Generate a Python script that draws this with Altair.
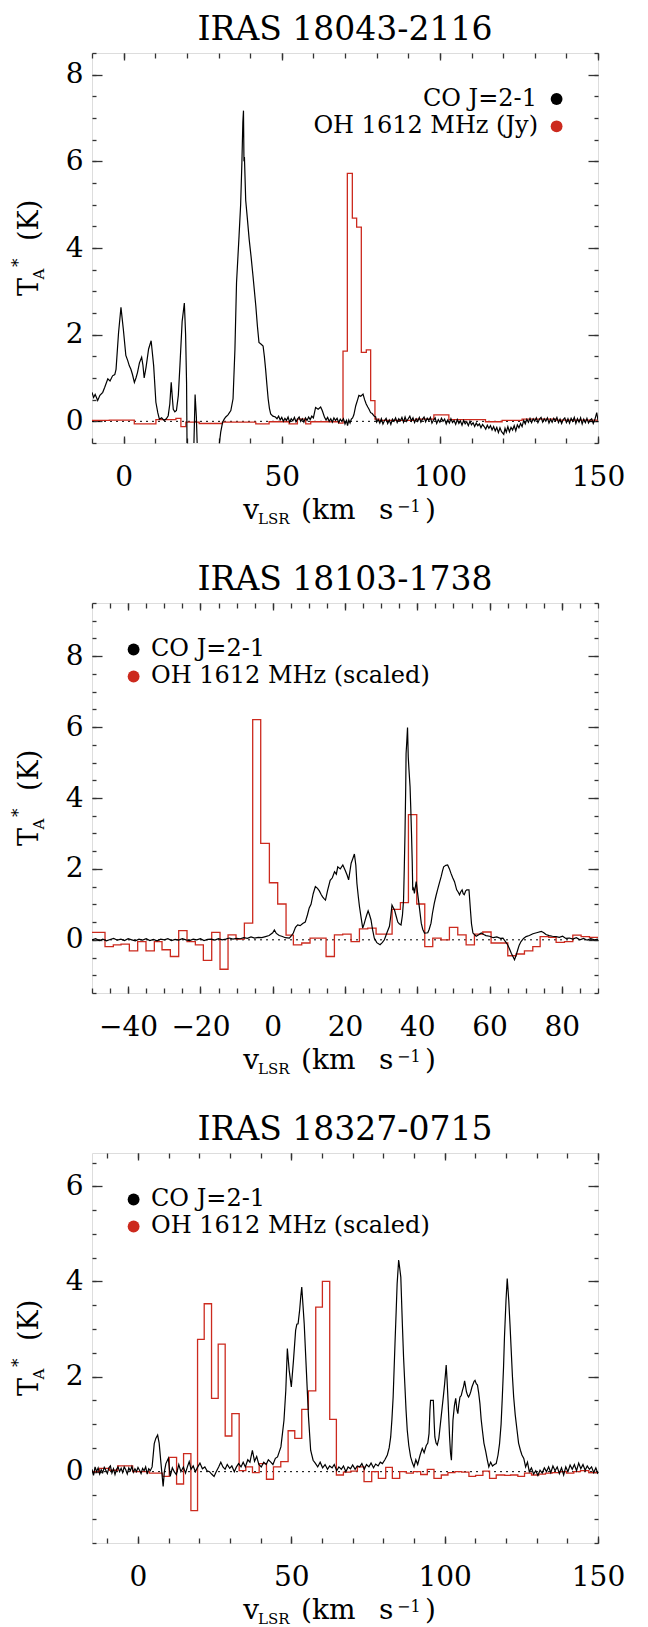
import altair as alt
import pandas as pd

FONT = "DejaVu Serif"
RED = "#cc2a1e"
FRAME = "#333333"
W, H = 506, 390

# ---------------- Panel 1 : IRAS 18043-2116 ----------------
p1_title = "IRAS 18043-2116"
p1_legend = ["CO J=2-1", "OH 1612 MHz (Jy)"]
p1_xdom = [-10, 150]
p1_ydom = [-0.5, 8.5]
p1_xmaj = [0, 50, 100, 150]
p1_xmin = list(range(-10, 151, 10))
p1_ymaj = [0, 2, 4, 6, 8]
p1_ymin = [i / 2 for i in range(-1, 18)]
p1_co = [
    (-10.0, 0.67), (-9.5, 0.55), (-9.0, 0.62), (-8.2, 0.48), (-7.5, 0.6), (-6.6, 0.67),
    (-6.0, 0.78), (-5.0, 0.98), (-4.3, 0.93), (-3.5, 1.05), (-2.8, 1.08), (-2.4, 1.2),
    (-1.6, 2.05), (-0.84, 2.63), (-0.1, 2.13), (0.7, 1.52), (1.3, 1.4), (1.8, 1.28),
    (2.3, 1.2), (2.8, 1.08), (3.4, 0.9), (3.9, 1.0), (4.4, 1.13), (5.0, 1.35), (5.7, 1.48),
    (6.1, 1.3), (6.5, 1.0), (7.1, 1.25), (7.9, 1.67), (8.7, 1.86), (9.5, 1.28), (10.2, 0.44),
    (10.8, 0.2), (11.3, 0.05), (12.0, 0.08), (12.8, 0.02), (13.5, 0.06), (14.1, 0.13),
    (14.6, 0.4), (15.05, 0.9), (15.4, 0.55), (15.7, 0.28), (16.2, 0.22), (16.7, 0.25),
    (17.3, 0.6), (17.8, 1.28), (18.5, 2.3), (19.2, 2.73), (19.6, 2.0), (19.9, 0.9),
    (20.1, -1.0), (21.8, -1.3), (22.2, -0.6), (22.6, 0.62), (23.0, 0.1), (23.5, -1.1),
    (26.0, -1.6), (29.5, -1.2), (30.2, -0.55), (30.7, -0.25), (31.3, -0.02), (31.8, 0.05),
    (32.3, 0.1), (33.0, 0.15), (33.9, 0.25), (34.6, 0.52), (35.2, 1.67), (35.7, 3.2),
    (36.5, 4.28), (37.0, 5.0), (37.4, 5.98), (37.7, 6.9), (37.9, 7.17), (38.05, 6.0),
    (38.2, 6.1), (38.6, 5.1), (39.1, 4.7), (39.7, 4.2), (40.3, 3.8), (40.9, 3.36),
    (41.8, 2.66), (42.3, 2.2), (42.8, 1.82), (43.5, 1.78), (44.1, 1.74), (44.5, 1.5),
    (44.9, 1.2), (45.3, 0.85), (45.7, 0.52), (46.1, 0.3), (46.5, 0.17), (47.2, 0.12),
    (48.0, 0.1), (48.5, 0.06), (49, 0.12), (49.5, 0.03), (50, 0.09), (50.5, 0.0), (51, 0.07),
    (51.5, 0.02), (52, 0.1), (52.5, -0.02), (53, 0.06), (53.5, 0.01), (54, 0.09), (54.5, -0.01),
    (55, 0.05), (55.5, 0.1), (56, 0.0), (56.5, 0.06), (57, -0.02), (57.5, 0.08), (58, 0.02),
    (58.5, 0.1), (59, 0.04), (59.5, 0.12), (60, 0.08), (60.7, 0.32), (61.5, 0.28),
    (62.3, 0.33), (62.8, 0.25), (63.5, 0.1), (64, 0.03), (64.5, 0.09), (65, 0.0), (65.5, 0.06),
    (66, -0.02), (66.5, 0.08), (67, 0.02), (67.5, 0.07), (68, -0.03), (68.5, 0.05), (69, 0.0),
    (69.5, 0.06), (70, -0.06), (70.5, 0.02), (70.8, -0.1), (71.2, 0.03), (71.6, -0.04),
    (72.0, 0.05), (72.4, 0.08), (72.8, 0.15), (73.4, 0.36), (74.0, 0.5), (74.4, 0.6),
    (75.0, 0.58), (75.7, 0.63), (76.2, 0.5), (76.7, 0.4), (77.2, 0.33), (77.6, 0.28),
    (78.1, 0.2), (78.6, 0.18), (79.2, 0.12), (79.7, 0.1), (80.0, -0.02), (80.5, 0.04),
    (81, -0.04), (81.5, 0.06), (82, -0.06), (82.5, 0.02), (83, 0.07), (83.5, -0.05), (84, 0.03),
    (84.5, -0.07), (85, 0.05), (85.5, 0.0), (86, 0.08), (86.5, -0.03), (87, 0.06), (87.5, 0.01),
    (88, 0.09), (88.5, -0.02), (89, 0.1), (89.5, 0.0), (90, 0.06), (90.5, 0.12), (91, 0.01),
    (91.5, 0.08), (92, -0.03), (92.5, 0.06), (93, 0.0), (93.5, 0.09), (94, -0.02), (94.5, 0.05),
    (95, 0.1), (95.5, -0.01), (96, 0.07), (96.5, 0.02), (97, 0.09), (97.5, -0.04), (98, 0.03),
    (98.5, 0.08), (99, -0.05), (99.5, 0.04), (100, -0.02), (100.5, 0.07), (101, 0.0),
    (101.5, 0.05), (102, -0.06), (102.5, 0.03), (103, -0.04), (103.5, 0.06), (104, -0.03),
    (104.5, 0.02), (105, -0.07), (105.5, 0.04), (106, -0.05), (106.5, 0.01), (107, -0.09),
    (107.5, 0.02), (108, -0.06), (108.5, -0.01), (109, -0.1), (109.5, 0.0), (110, -0.08),
    (110.5, -0.03), (111, -0.12), (111.5, -0.04), (112, -0.1), (112.5, -0.06), (113, -0.15),
    (113.5, -0.07), (114, -0.12), (114.5, -0.18), (115, -0.09), (115.5, -0.16), (116, -0.1),
    (116.5, -0.2), (117, -0.12), (117.5, -0.22), (118, -0.14), (118.5, -0.26), (119, -0.15),
    (119.5, -0.24), (120.2, -0.3), (120.6, -0.16), (121, -0.25), (121.5, -0.12), (122, -0.24),
    (122.5, -0.14), (123, -0.2), (123.5, -0.1), (124, -0.22), (124.5, -0.08), (125, -0.15),
    (125.5, -0.05), (126, -0.12), (126.5, 0.02), (127, -0.06), (127.5, 0.05), (128, -0.02),
    (128.5, 0.07), (129, -0.03), (129.5, 0.06), (130, 0.0), (130.5, 0.08), (131, -0.03),
    (131.5, 0.05), (132, 0.09), (132.5, -0.02), (133, 0.06), (133.5, 0.0), (134, 0.08),
    (134.5, -0.04), (135, 0.05), (135.5, -0.02), (136, 0.07), (136.5, 0.01), (137, 0.09),
    (137.5, -0.03), (138, 0.05), (138.5, -0.05), (139, 0.04), (139.5, 0.08), (140, -0.03),
    (140.5, 0.06), (141, -0.04), (141.5, 0.07), (142, 0.0), (142.5, 0.09), (143, -0.05),
    (143.5, 0.06), (144, -0.02), (144.5, 0.08), (145, -0.06), (145.5, 0.05), (146, -0.03),
    (146.5, 0.07), (147, -0.04), (147.5, 0.03), (148, 0.06), (148.5, -0.05), (149, 0.04),
    (149.6, 0.2), (150, 0.02),
]
p1_oh_edges = [-10, -4.53, 3.37, 10.21, 16.53, 18.11, 19.68, 23.89, 31.26, 41.79, 46.0,
               52.32, 54.95, 57.58, 59.16, 68.11, 69.37, 70.74, 72.32, 73.68, 75.16, 76.74,
               78.11, 79.47, 80.74, 92.32, 98.1, 102.84, 114.42, 119.68, 126.0, 136.53, 150]
p1_oh_vals = [0.02, 0.03, -0.06, 0.04, 0.07, -0.12, -0.02, -0.05, -0.02, -0.06, -0.01,
              -0.06, 0.05, -0.06, -0.01, -0.04, 1.62, 5.72, 4.69, 4.48, 1.59, 1.65, 0.48,
              0.05, 0.02, 0.05, 0.15, 0.04, -0.01, 0.02, 0.05, 0.03]

# ---------------- Panel 2 : IRAS 18103-1738 ----------------
p2_title = "IRAS 18103-1738"
p2_legend = ["CO J=2-1", "OH 1612 MHz (scaled)"]
p2_xdom = [-50, 90]
p2_ydom = [-1.5, 9.5]
p2_xmaj = [-40, -20, 0, 20, 40, 60, 80]
p2_xmin = list(range(-50, 91, 5))
p2_ymaj = [0, 2, 4, 6, 8]
p2_ymin = [i / 2 for i in range(-3, 20)]
p2_co = [
    (-50, 0.0), (-49, 0.03), (-48, -0.02), (-47, 0.02), (-46, -0.03), (-45, 0.01), (-44, 0.04),
    (-43, -0.01), (-42, 0.02), (-41, -0.02), (-40, 0.03), (-39, 0.0), (-38, -0.03), (-37, 0.02),
    (-36, -0.01), (-35, 0.03), (-34, -0.02), (-33, 0.01), (-32, -0.03), (-31, 0.02), (-30, 0.0),
    (-29, 0.03), (-28, -0.02), (-27, 0.01), (-26, -0.01), (-25, 0.03), (-24, 0.0), (-23, -0.02),
    (-22, 0.02), (-21, 0.0), (-20, 0.03), (-19, -0.02), (-18, 0.01), (-17, 0.02), (-16, -0.01),
    (-15, 0.03), (-14, 0.0), (-13, 0.02), (-12, 0.05), (-11, 0.02), (-10, 0.04), (-9, 0.03),
    (-8, 0.06), (-7, 0.04), (-6, 0.08), (-5, 0.05), (-4, 0.07), (-3, 0.06), (-2, 0.09),
    (-1, 0.12), (0.0, 0.2), (0.46, 0.28), (1.0, 0.18), (1.8, 0.12), (2.5, 0.1), (3.5, 0.06),
    (4.6, 0.05), (5.2, 0.12), (5.7, 0.19), (6.3, 0.35), (6.9, 0.42), (7.6, 0.4), (8.3, 0.46),
    (9.0, 0.5), (9.6, 0.7), (10.1, 0.9), (10.6, 1.0), (11.2, 1.3), (11.8, 1.5), (12.4, 1.45),
    (12.9, 1.38), (13.4, 1.28), (13.8, 1.21), (14.2, 1.16), (14.6, 1.12), (15.2, 1.4),
    (15.9, 1.68), (16.5, 1.75), (17.1, 1.92), (17.6, 1.85), (18.0, 2.06), (18.7, 2.0),
    (19.4, 2.11), (20.1, 1.95), (20.6, 1.82), (21.0, 1.69), (21.7, 2.16), (22.2, 2.3),
    (22.6, 2.42), (23.0, 2.1), (23.3, 1.59), (23.7, 1.2), (24.0, 0.94), (24.5, 0.6),
    (24.9, 0.33), (25.3, 0.45), (25.6, 0.56), (26.0, 0.7), (26.4, 0.82), (26.8, 0.7),
    (27.2, 0.56), (27.6, 0.3), (28.1, 0.05), (28.8, -0.08), (29.7, -0.14), (30.3, -0.08),
    (30.9, 0.0), (31.6, 0.2), (32.3, 0.38), (32.7, 0.7), (33.0, 0.98), (33.4, 0.9),
    (33.7, 0.84), (34.2, 0.65), (34.6, 0.5), (35.0, 0.45), (35.5, 0.42), (35.9, 0.7),
    (36.2, 1.12), (36.4, 2.0), (36.6, 3.0), (36.8, 4.3), (36.9, 5.25), (37.1, 5.6),
    (37.3, 5.99), (37.5, 5.16), (37.7, 4.8), (38.0, 4.32), (38.2, 3.7), (38.4, 3.0),
    (38.6, 2.2), (38.75, 1.4), (39.0, 1.45), (39.2, 1.31), (39.7, 1.64), (40.1, 1.31),
    (40.6, 0.9), (41.1, 0.47), (41.5, 0.3), (42.0, 0.19), (42.9, 0.2), (43.3, 0.3),
    (43.8, 0.47), (44.2, 0.75), (44.7, 1.03), (45.2, 1.25), (45.6, 1.41), (46.1, 1.6),
    (46.6, 1.78), (47.0, 1.95), (47.3, 2.06), (47.9, 2.1), (48.4, 2.11), (48.9, 2.0),
    (49.3, 1.88), (49.8, 1.75), (50.3, 1.64), (50.9, 1.41), (51.3, 1.35), (51.7, 1.27),
    (52.0, 1.35), (52.4, 1.41), (52.7, 1.3), (53.0, 1.27), (53.4, 1.38), (53.7, 1.41),
    (54.3, 1.41), (54.7, 0.85), (55.0, 0.45), (55.4, 0.19), (56.3, 0.1), (57.0, 0.14),
    (57.7, 0.19), (58.4, 0.15), (59.0, 0.12), (60.0, 0.1), (61.0, 0.06), (62.0, 0.08),
    (63.0, 0.04), (63.7, 0.05), (64.4, -0.05), (65.0, -0.14), (65.5, -0.25), (66.0, -0.38),
    (66.5, -0.48), (66.9, -0.56), (67.3, -0.45), (67.8, -0.28), (68.2, -0.15), (68.7, -0.05),
    (69.4, 0.04), (70.1, 0.09), (71.0, 0.12), (72.0, 0.17), (73.0, 0.2), (74.3, 0.24),
    (75.0, 0.2), (75.6, 0.15), (76.5, 0.12), (77.4, 0.1), (78.4, 0.09), (79.3, 0.07),
    (80.2, 0.1), (81.1, 0.04), (82.1, 0.05), (83.0, 0.02), (84.0, 0.06), (85.0, 0.0),
    (86.0, 0.04), (87.0, -0.01), (88.0, 0.03), (89.0, 0.0), (90.0, 0.02),
]
p2_oh_edges = [-50, -46.40, -44.10, -41.97, -39.67, -37.36, -35.06, -32.75, -30.63, -28.32,
               -26.01, -23.71, -21.40, -19.19, -16.88, -14.58, -12.36, -10.15, -7.84, -5.54,
               -3.32, -0.92, 1.38, 3.69, 5.72, 8.03, 10.33, 12.64, 14.76, 17.07, 19.37, 21.68,
               23.99, 26.29, 28.60, 30.90, 33.03, 35.33, 37.55, 39.85, 42.07, 44.28, 46.59,
               48.89, 51.20, 53.51, 55.81, 58.12, 60.42, 62.73, 65.04, 67.34, 69.65, 71.96,
               73.99, 76.38, 78.41, 80.72, 83.03, 85.33, 87.64, 90.0]
p2_oh_vals = [0.21, -0.19, -0.14, -0.12, -0.31, -0.05, -0.31, -0.05, -0.28, -0.47, 0.26,
              -0.05, -0.14, -0.58, 0.21, -0.83, 0.14, 0.02, 0.47, 6.21, 2.72, 1.61, 1.01,
              0.13, -0.14, -0.09, 0.05, 0.05, -0.47, 0.14, 0.16, -0.05, 0.31, 0.33, 0.16,
              0.16, 0.86, 1.05, 3.53, 1.01, -0.19, 0.05, 0.0, 0.35, 0.14, -0.14, 0.16, 0.22,
              -0.09, -0.09, -0.45, -0.40, -0.31, -0.19, 0.09, 0.07, -0.07, -0.05, 0.13, 0.09,
              0.07]

# ---------------- Panel 3 : IRAS 18327-0715 ----------------
p3_title = "IRAS 18327-0715"
p3_legend = ["CO J=2-1", "OH 1612 MHz (scaled)"]
p3_xdom = [-15, 150]
p3_ydom = [-1.5, 6.7]
p3_xmaj = [0, 50, 100, 150]
p3_xmin = list(range(-10, 151, 10))
p3_ymaj = [0, 2, 4, 6]
p3_ymin = [i / 2 for i in range(-3, 14)]
p3_co = [
    (-15, 0.05), (-14.5, -0.08), (-14, 0.1), (-13.5, 0.0), (-13, 0.08), (-12.5, -0.05),
    (-12, 0.04), (-11.5, -0.02), (-11, 0.09), (-10.5, 0.03), (-10, -0.04), (-9.5, 0.08),
    (-9, 0.12), (-8.5, -0.03), (-8, 0.06), (-7.5, -0.06), (-7, 0.05), (-6.5, 0.1), (-6, 0.0),
    (-5.5, 0.07), (-5, -0.02), (-4.5, 0.1), (-4, 0.04), (-3.5, -0.05), (-3, 0.08), (-2.5, 0.02),
    (-2, 0.11), (-1.5, -0.01), (-1, 0.06), (-0.5, 0.0), (0, 0.09), (0.5, 0.03), (1, -0.04),
    (1.5, 0.07), (2, 0.02), (2.5, 0.1), (3, -0.05), (3.5, 0.06), (4, 0.02), (4.6, 0.1),
    (5.3, 0.59), (5.8, 0.7), (6.4, 0.77), (6.9, 0.6), (7.5, 0.17), (8.2, -0.31), (8.6, 0.0),
    (9.1, 0.17), (9.9, 0.28), (10.5, -0.1), (11.2, 0.08), (11.8, 0.0), (12.5, -0.06),
    (13.3, 0.15), (14.0, 0.0), (14.8, 0.1), (15.5, -0.03), (16.2, 0.12), (16.7, 0.21),
    (17.3, 0.05), (18.0, 0.12), (18.7, 0.0), (19.4, 0.09), (20.2, 0.18), (21.0, 0.06),
    (21.8, 0.1), (22.5, 0.02), (23.3, 0.0), (24.0, -0.05), (24.8, -0.1), (25.5, 0.0),
    (26.3, 0.1), (27.0, 0.2), (27.7, 0.1), (28.4, 0.05), (29.1, 0.15), (29.9, 0.07),
    (30.6, 0.12), (31.4, 0.0), (32.1, 0.1), (32.8, 0.17), (33.6, 0.1), (34.3, 0.2),
    (35.0, 0.1), (35.8, 0.25), (36.5, 0.2), (37.3, 0.45), (38.0, 0.22), (38.7, 0.32),
    (39.4, 0.15), (40.2, 0.1), (41.0, 0.2), (41.8, 0.15), (42.5, 0.25), (43.3, 0.2),
    (44.0, 0.15), (44.8, 0.28), (45.5, 0.31), (46.6, 0.52), (47.1, 0.8), (47.6, 1.08),
    (48.2, 1.71), (48.7, 2.59), (49.3, 2.13), (50.0, 1.78), (50.7, 2.34), (51.4, 2.97),
    (51.8, 3.1), (52.2, 3.11), (52.7, 3.39), (53.1, 3.7), (53.4, 3.88), (53.8, 3.5),
    (54.2, 3.11), (54.9, 2.13), (55.6, 1.15), (56.3, 0.45), (57.1, 0.24), (57.8, 0.18),
    (58.6, 0.1), (59.4, 0.2), (60.2, 0.08), (61.0, 0.15), (61.8, 0.05), (62.5, 0.12),
    (63.3, 0.08), (64.0, 0.15), (64.8, 0.02), (65.5, 0.1), (66.3, 0.05), (67.0, 0.12),
    (67.8, 0.0), (68.5, 0.1), (69.3, 0.06), (70.0, 0.14), (70.8, 0.05), (71.5, 0.12),
    (72.3, 0.1), (73.0, 0.17), (73.8, 0.05), (74.5, 0.15), (75.3, 0.1), (76.0, 0.18),
    (76.8, 0.08), (77.5, 0.16), (78.3, 0.12), (79.0, 0.2), (79.7, 0.17), (80.5, 0.25),
    (81.3, 0.35), (81.9, 0.5), (82.4, 0.73), (82.8, 1.1), (83.2, 1.57), (83.8, 2.69),
    (84.2, 3.4), (84.5, 3.95), (85.0, 4.45), (85.3, 4.3), (85.7, 4.09), (86.2, 3.11),
    (86.6, 2.4), (87.0, 1.85), (87.4, 1.3), (87.8, 0.87), (88.3, 0.55), (88.9, 0.31),
    (89.5, 0.18), (90.0, 0.1), (90.6, 0.25), (91.2, 0.15), (92.0, 0.35), (92.7, 0.49),
    (93.3, 0.4), (94.0, 0.55), (94.5, 0.6), (94.9, 0.8), (95.2, 1.3), (95.4, 1.5),
    (96.3, 1.5), (96.6, 1.0), (96.8, 0.73), (97.2, 0.6), (97.6, 0.56), (98.1, 0.7),
    (98.6, 1.0), (99.2, 1.36), (99.6, 1.6), (100.0, 1.85), (100.5, 2.24), (100.8, 1.9),
    (101.1, 1.5), (101.6, 0.73), (101.9, 0.4), (102.2, 0.24), (102.7, 1.08), (103.2, 1.4),
    (103.6, 1.54), (104.0, 1.3), (104.3, 1.22), (104.6, 1.4), (105.0, 1.57), (105.4, 1.6),
    (105.8, 1.71), (106.2, 1.8), (106.5, 1.91), (106.8, 1.8), (107.1, 1.68), (107.5, 1.6),
    (107.8, 1.57), (108.2, 1.62), (108.5, 1.68), (108.9, 1.78), (109.3, 1.85), (109.6, 1.9),
    (109.9, 1.92), (110.3, 1.85), (110.7, 1.82), (111.1, 1.65), (111.5, 1.43), (111.9, 1.1),
    (112.3, 0.87), (112.8, 0.6), (113.4, 0.42), (113.9, 0.25), (114.4, 0.1), (115.0, 0.2),
    (115.6, 0.12), (116.2, 0.15), (116.8, 0.17), (117.4, 0.35), (117.9, 0.59), (118.4, 1.0),
    (118.8, 1.57), (119.2, 2.2), (119.5, 2.83), (120.0, 3.6), (120.4, 4.06), (120.9, 3.6),
    (121.3, 3.1), (121.7, 2.55), (122.1, 2.0), (122.5, 1.57), (123.0, 1.2), (123.6, 0.87),
    (124.1, 0.6), (124.7, 0.45), (125.2, 0.35), (125.8, 0.28), (126.4, 0.1), (127.0, 0.2),
    (127.6, 0.0), (128.3, 0.08), (129.0, -0.05), (129.7, 0.02), (130.4, -0.08), (131.1, 0.03),
    (131.8, -0.03), (132.5, 0.08), (133.2, 0.0), (133.9, 0.1), (134.6, -0.02), (135.3, 0.12),
    (136.0, 0.02), (136.7, 0.1), (137.4, -0.04), (138.1, 0.08), (138.8, -0.07), (139.5, 0.1),
    (140.2, 0.0), (140.9, 0.14), (141.6, 0.05), (142.3, 0.15), (143.0, 0.02), (143.7, 0.18),
    (144.4, 0.06), (145.1, 0.15), (145.8, 0.03), (146.5, 0.12), (147.2, 0.05), (147.9, 0.1),
    (148.6, -0.02), (149.3, 0.08), (150.0, -0.05),
]
p3_oh_edges = [-15.0, -12.61, -9.35, -6.64, -1.75, 3.68, 8.02, 10.19, 12.58, 14.86, 17.25,
               19.42, 21.59, 23.98, 26.15, 28.43, 30.60, 32.99, 35.16, 37.33, 39.51, 41.89,
               44.17, 46.56, 48.95, 51.12, 53.40, 55.57, 57.96, 60.13, 62.52, 64.69, 66.98,
               69.36, 71.54, 73.71, 76.21, 78.38, 80.77, 82.94, 85.33, 87.50, 89.78, 92.17,
               94.34, 96.51, 98.90, 101.07, 103.35, 105.52, 107.91, 110.08, 112.47, 114.64,
               116.81, 119.59, 121.48, 123.87, 126.04, 128.32, 130.71, 132.88, 135.05,
               137.55, 139.72, 142.11, 144.28, 147.00, 150.0]
p3_oh_vals = [0.0, 0.07, 0.03, 0.12, 0.0, -0.03, -0.1, 0.3, -0.26, 0.38, -0.82, 2.78, 3.53,
              1.54, 2.68, 0.75, 1.22, 0.02, 0.1, -0.02, 0.17, -0.16, 0.1, 0.21, 0.86, 0.7,
              1.31, 1.7, 3.46, 4.0, 1.1, -0.07, -0.01, 0.01, 0.1, -0.21, 0.0, -0.14, 0.09,
              -0.14, 0.0, -0.03, 0.0, -0.06, 0.05, -0.14, -0.07, -0.02, 0.0, -0.01, -0.1,
              -0.08, 0.01, -0.14, -0.07, -0.08, -0.07, -0.1, -0.03, -0.07, -0.05, -0.03,
              -0.02, 0.0, -0.03, 0.0, 0.02, -0.02]

ONE = pd.DataFrame({"a": [0]})


def ax(orient, values, size, labels=False, pad=0):
    kw = dict(orient=orient, values=values, tickSize=size, offset=-size, labels=labels,
              title=None, grid=False, domain=False, tickColor=FRAME, tickWidth=1.3)
    if labels:
        kw.update(labelFont=FONT, labelFontSize=28, labelColor="black", labelPadding=pad,
                  labelFlush=False, labelOverlap=False)
    return alt.Axis(**kw)


def txt(s, x, y, size, align="left", angle=0, color="black"):
    return alt.Chart(ONE).mark_text(
        text=s, font=FONT, fontSize=size, align=align, baseline="alphabetic",
        angle=angle, color=color
    ).encode(x=alt.value(x), y=alt.value(y))


def dot(x, y, color):
    return alt.Chart(ONE).mark_point(
        shape="circle", filled=True, size=140, color=color, opacity=1, strokeWidth=0
    ).encode(x=alt.value(x), y=alt.value(y))


def panel(title, legend, legend_right, xdom, ydom, xmaj, xmin, ymaj, ymin, co_pts, oh_edges, oh_vals):
    co = pd.DataFrame(co_pts, columns=["v", "T"])
    oh = pd.DataFrame({"v": list(oh_edges), "T": list(oh_vals) + [oh_vals[-1]]})
    ref = pd.DataFrame({"v": xdom, "T": [0, 0]})
    xs = alt.Scale(domain=xdom, nice=False, zero=False)
    ys = alt.Scale(domain=ydom, nice=False, zero=False)

    zero = alt.Chart(ref).mark_line(color="black", strokeWidth=1, strokeDash=[2, 4]).encode(
        x=alt.X("v:Q", scale=xs, axis=ax("bottom", xmin, 5)),
        y=alt.Y("T:Q", scale=ys, axis=ax("left", ymin, 4)))
    carrier = alt.Chart(ref).mark_point(opacity=0).encode(
        x=alt.X("v:Q", scale=xs, axis=ax("top", xmin, 5)),
        y=alt.Y("T:Q", scale=ys, axis=ax("right", ymin, 4)))
    oh_line = alt.Chart(oh).mark_line(color=RED, strokeWidth=1.3, interpolate="step-after", clip=True).encode(
        x=alt.X("v:Q", scale=xs, axis=ax("top", xmaj, 7)),
        y=alt.Y("T:Q", scale=ys, axis=ax("right", ymaj, 10)))
    co_line = alt.Chart(co).mark_line(color="black", strokeWidth=1.2, clip=True).encode(
        x=alt.X("v:Q", scale=xs, axis=ax("bottom", xmaj, 7, True, 20)),
        y=alt.Y("T:Q", scale=ys, axis=ax("left", ymaj, 10, True, 9)))

    layers = [zero, carrier, oh_line, co_line]
    # panel title
    layers.append(txt(title, W / 2, -13, 33, align="center"))
    # legend
    if legend_right:
        layers += [txt(legend[0], 445, 53, 24, align="right"), dot(464.6, 46, "black"),
                   txt(legend[1], 446, 79.5, 24, align="right"), dot(464.6, 73.3, RED)]
    else:
        layers += [dot(41.6, 46.5, "black"), txt(legend[0], 59, 53, 24),
                   dot(41.6, 73.5, RED), txt(legend[1], 59, 79.5, 24)]
    # y-axis title  T_A* (K)
    layers += [txt("T", -53.7, 243, 27, angle=270),
               txt("A", -48.5, 226.5, 15, angle=270),
               txt("*", -68, 214, 17, angle=270),
               txt("(K)", -53.7, 188, 27, angle=270)]
    # x-axis title  v_LSR (km s^-1)
    yb = H + 75.5
    layers += [txt("v", 151.3, yb, 28),
               txt("LSR", 166, yb + 5.5, 15),
               txt("(", 209, yb, 28),
               txt("km", 220, yb, 28),
               txt("s", 287, yb, 28),
               txt("\u22121", 305, yb - 7, 16),
               txt(")", 333, yb, 28)]
    return alt.layer(*layers).resolve_axis(x="independent", y="independent").properties(width=W, height=H)


p1 = panel(p1_title, p1_legend, True, p1_xdom, p1_ydom, p1_xmaj, p1_xmin, p1_ymaj, p1_ymin,
           p1_co, p1_oh_edges, p1_oh_vals)
p2 = panel(p2_title, p2_legend, False, p2_xdom, p2_ydom, p2_xmaj, p2_xmin, p2_ymaj, p2_ymin,
           p2_co, p2_oh_edges, p2_oh_vals)
p3 = panel(p3_title, p3_legend, False, p3_xdom, p3_ydom, p3_xmaj, p3_xmin, p3_ymaj, p3_ymin,
           p3_co, p3_oh_edges, p3_oh_vals)

chart = alt.vconcat(p1, p2, p3, spacing=160, bounds="flush").properties(
    padding={"left": 1, "top": 5, "right": 0, "bottom": 1}
).configure_view(stroke=FRAME, strokeWidth=1.5).configure(background="white")

chart.save("out.html", embed_options={"renderer": "svg", "actions": False})
